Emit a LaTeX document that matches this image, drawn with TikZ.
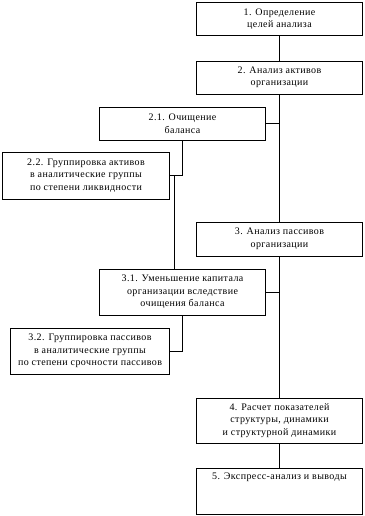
\documentclass[tikz,border=0pt]{standalone}
\usepackage{fontspec}
\setmainfont[LetterSpace=4]{Liberation Serif}
\usepackage{tikz}
\usetikzlibrary{positioning, calc}
\definecolor{mydark}{RGB}{0,0,0}
\tikzset{
  block/.style={rectangle, draw=mydark, fill=white,
    minimum width=166pt, minimum height=33pt, align=center,
    font=\fontsize{10}{12.5}\selectfont, line width=0.9pt, inner sep=1pt},
  tallblock/.style={block, minimum height=46pt},
  line/.style={line width=0.9pt, color=mydark}
}
\begin{document}
\begin{tikzpicture}[x=1pt, y=-1pt]
  \useasboundingbox (0,0) rectangle (364,516);
  % main column
  \node[block] (b1) at (279.5,19) {1. Определение\\целей анализа};
  \node[block] (b2) at (279.5,77.5) {2. Анализ активов\\организации};
  \node[block, minimum height=34pt] (b3) at (279.5,239) {3. Анализ пассивов\\организации};
  \node[tallblock, minimum height=45pt] (b4) at (279.5,420.5) {4. Расчет показателей\\структуры, динамики\\и структурной динамики};
  \node[tallblock] (b5) at (279.5,491) {5. Экспресс-анализ и выводы\\\strut\\\strut};
  % side boxes
  \node[block] (b21) at (182.5,123.5) {2.1. Очищение\\баланса};
  \node[tallblock, minimum height=47pt, minimum width=166.5pt] (b22) at (86,175.5) {2.2. Группировка активов\\в аналитические группы\\по степени ликвидности};
  \node[tallblock] (b31) at (182.5,292) {3.1. Уменьшение капитала\\организации вследствие\\очищения баланса};
  \node[tallblock, minimum width=158.5pt] (b32) at (90,351) {3.2. Группировка пассивов\\в аналитические группы\\по степени срочности пассивов};
  \coordinate (k1) at ($(b22.east)+(4.5,0)$);

  \draw[line] (b1) -- (b2);
  \draw[line] (b2) -- (b3);
  \draw[line] (b3) -- (b4);
  \draw[line] (b4) -- (b5);
  \draw[line] (b21.east) -- (b21.east -| b2.south);
  \draw[line] (b31.east) -- (b31.east -| b3.south);
  \draw[line] (b21.south) |- (b22.east);
  \draw[line] (k1) -- (k1 |- b31.north);
  \draw[line] (b31.south) |- (b32.east);
\end{tikzpicture}
\end{document}
